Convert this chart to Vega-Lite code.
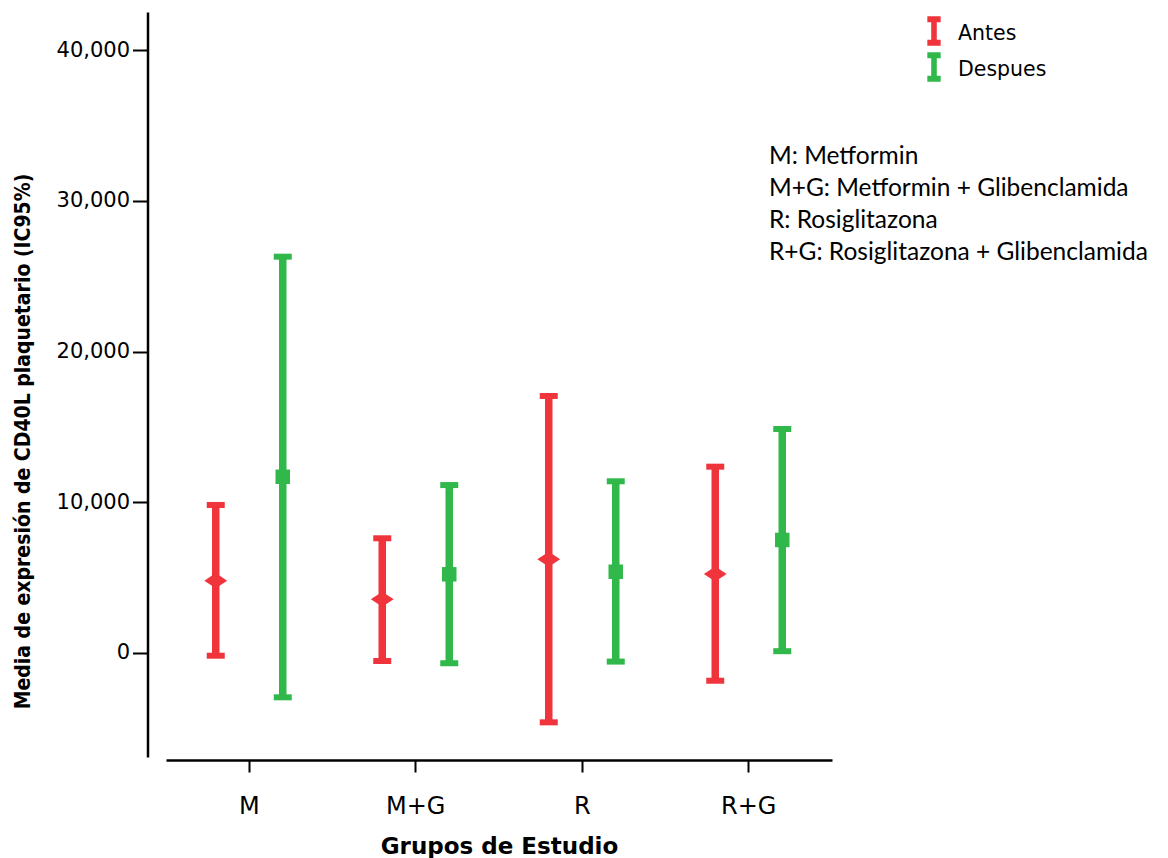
{
  "$schema": "https://vega.github.io/schema/vega-lite/v6.json",
  "width": 666,
  "height": 745,
  "autosize": "none",
  "padding": {"left": 166, "top": 12, "right": 336, "bottom": 101},
  "background": "white",
  "config": {"view": {"stroke": null}, "axis": {"grid": false}},
  "title": {
    "text": ["M: Metformin", "M+G: Metformin + Glibenclamida", "R: Rosiglitazona", "R+G: Rosiglitazona + Glibenclamida"],
    "orient": "top",
    "anchor": "start",
    "frame": "group",
    "align": "left",
    "baseline": "top",
    "dx": 603,
    "dy": 253,
    "offset": 0,
    "font": "Lato",
    "fontSize": 24.5,
    "fontWeight": "normal",
    "color": "black",
    "lineHeight": 32
  },
  "data": {
    "values": [
      {"grupo": "M", "tiempo": "Antes", "media": 4800, "inferior": -180, "superior": 9820},
      {"grupo": "M", "tiempo": "Despues", "media": 11690, "inferior": -2940, "superior": 26290},
      {"grupo": "M+G", "tiempo": "Antes", "media": 3560, "inferior": -530, "superior": 7610},
      {"grupo": "M+G", "tiempo": "Despues", "media": 5220, "inferior": -680, "superior": 11140},
      {"grupo": "R", "tiempo": "Antes", "media": 6220, "inferior": -4600, "superior": 17050},
      {"grupo": "R", "tiempo": "Despues", "media": 5390, "inferior": -570, "superior": 11390},
      {"grupo": "R+G", "tiempo": "Antes", "media": 5240, "inferior": -1840, "superior": 12360},
      {"grupo": "R+G", "tiempo": "Despues", "media": 7500, "inferior": 120, "superior": 14860}
    ]
  },
  "encoding": {
    "x": {
      "field": "grupo",
      "type": "nominal",
      "sort": ["M", "M+G", "R", "R+G"],
      "scale": {"paddingInner": 0, "paddingOuter": 0},
      "axis": {
        "title": "Grupos de Estudio",
        "labelAngle": 0,
        "offset": 3,
        "domainColor": "black",
        "domainWidth": 2.5,
        "tickColor": "black",
        "tickWidth": 2,
        "tickSize": 12,
        "labelFont": "DejaVu Sans",
        "labelFontSize": 24,
        "labelColor": "black",
        "labelPadding": 22,
        "titleFont": "DejaVu Sans",
        "titleFontSize": 23,
        "titleFontWeight": "bold",
        "titleColor": "black",
        "titlePadding": 17
      }
    },
    "xOffset": {
      "field": "tiempo",
      "type": "nominal",
      "sort": ["Antes", "Despues"],
      "scale": {"type": "point", "padding": 0.7425}
    },
    "color": {
      "field": "tiempo",
      "type": "nominal",
      "scale": {"domain": ["Antes", "Despues"], "range": ["#f0343c", "#30b84a"]},
      "legend": {
        "title": null,
        "orient": "none",
        "legendX": 753,
        "legendY": 4,
        "padding": 0,
        "symbolType": "M-0.455,-1H0.455V-0.59H0.19V0.59H0.455V1H-0.455V0.59H-0.19V-0.59H-0.455Z",
        "symbolSize": 858,
        "symbolStrokeWidth": 0,
        "rowPadding": 6,
        "labelOffset": 9,
        "labelFont": "DejaVu Sans",
        "labelFontSize": 20.5,
        "labelColor": "black",
        "encode": {
          "symbols": {"update": {"fill": {"scale": "color", "field": "value"}, "stroke": {"value": "transparent"}, "opacity": {"value": 1}}},
          "labels": {"update": {"dy": {"value": 3}}}
        }
      }
    }
  },
  "layer": [
    {
      "mark": {"type": "rule", "strokeWidth": 7.5},
      "encoding": {
        "y": {
          "field": "inferior",
          "type": "quantitative",
          "scale": {"domain": [-6899, 42521], "nice": false, "zero": false},
          "axis": {
            "title": "Media de expresión de CD40L plaquetario (IC95%)",
            "values": [0, 10000, 20000, 30000, 40000],
            "format": ",d",
            "offset": 18.5,
            "domainColor": "black",
            "domainWidth": 2.5,
            "tickColor": "black",
            "tickWidth": 2,
            "tickSize": 15,
            "labelFont": "DejaVu Sans",
            "labelFontSize": 21,
            "labelColor": "black",
            "labelPadding": 3,
            "titleFont": "Liberation Sans Narrow, DejaVu Sans Condensed",
            "titleFontSize": 21,
            "titleFontWeight": "bold",
            "titleColor": "black",
            "titleX": -124,
            "titleY": 429,
            "titleBaseline": "middle"
          }
        },
        "y2": {"field": "superior"}
      }
    },
    {
      "mark": {"type": "tick", "thickness": 6, "size": 18, "opacity": 1},
      "encoding": {"y": {"field": "superior", "type": "quantitative"}}
    },
    {
      "mark": {"type": "tick", "thickness": 6, "size": 18, "opacity": 1},
      "encoding": {"y": {"field": "inferior", "type": "quantitative"}}
    },
    {
      "transform": [{"filter": "datum.tiempo === 'Antes'"}],
      "mark": {"type": "point", "filled": true, "opacity": 1, "size": 520, "shape": "M-1,0L0,-0.66L1,0L0,0.66Z"},
      "encoding": {"y": {"field": "media", "type": "quantitative"}}
    },
    {
      "transform": [{"filter": "datum.tiempo === 'Despues'"}],
      "mark": {"type": "point", "filled": true, "opacity": 1, "size": 210, "shape": "square"},
      "encoding": {"y": {"field": "media", "type": "quantitative"}}
    }
  ]
}
